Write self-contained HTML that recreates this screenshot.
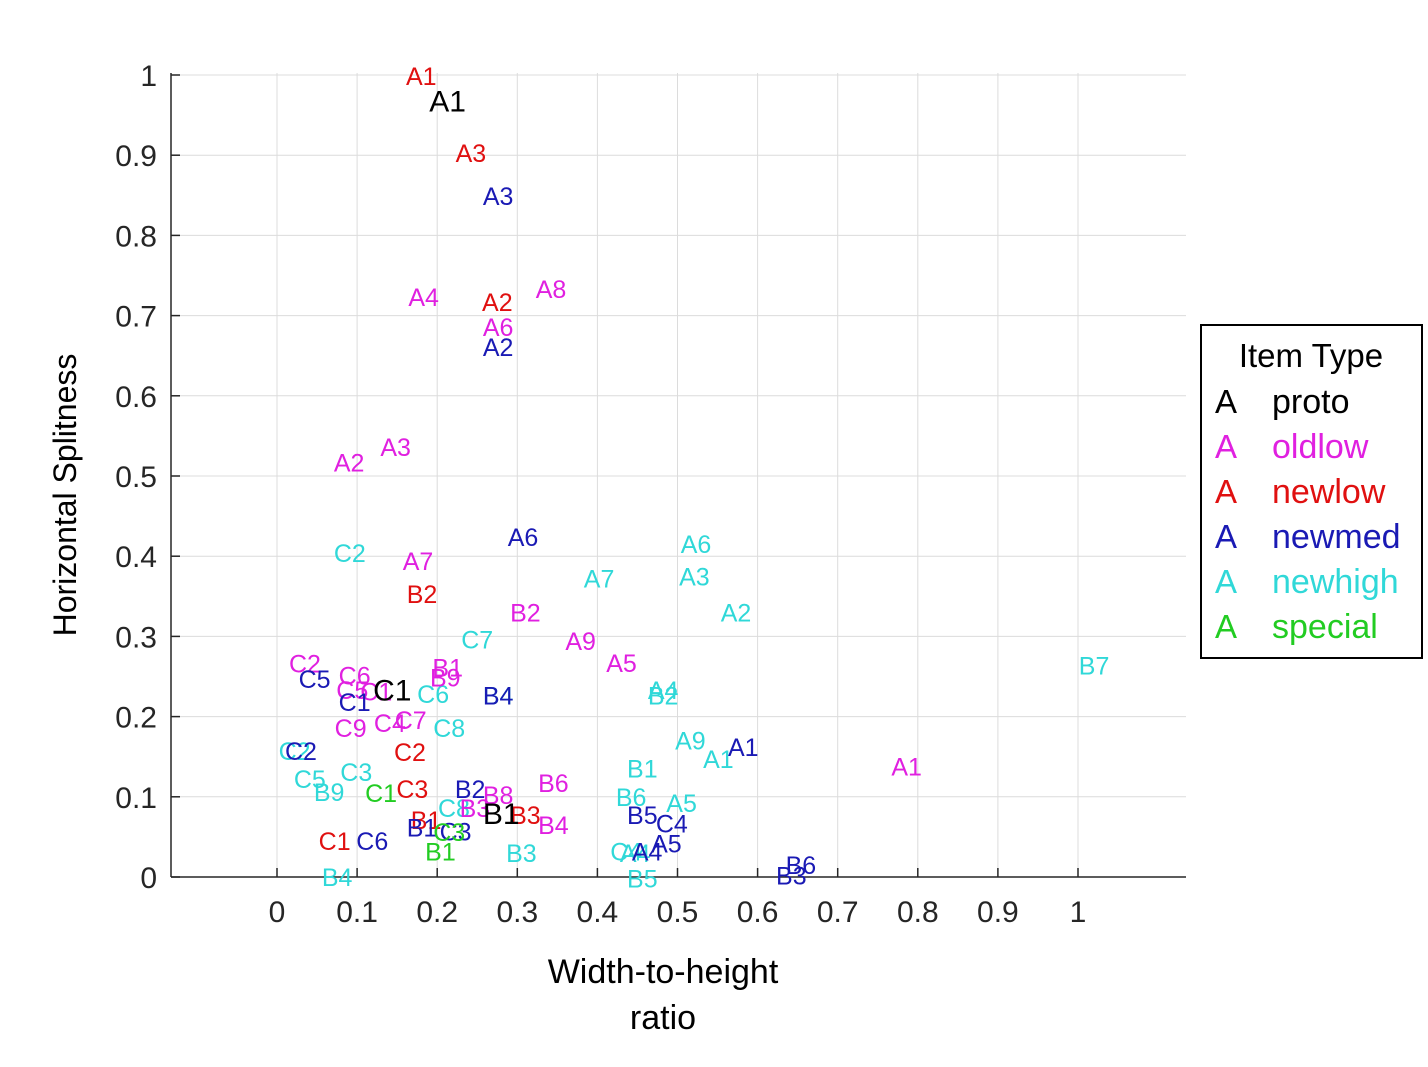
<!DOCTYPE html>
<html><head><meta charset="utf-8"><style>
body{margin:0;background:#fff;width:1428px;height:1062px;overflow:hidden;font-family:"Liberation Sans",Arial,sans-serif}
svg text{font-family:"Liberation Sans",Arial,sans-serif}
</style></head><body>
<svg id="chart" width="1428" height="1062" xmlns="http://www.w3.org/2000/svg">
<g id="grid"></g>
<g id="axes"></g>
<g id="marks"></g>
<text transform="translate(76,495) rotate(-90)" text-anchor="middle" font-size="32" fill="#000">Horizontal Splitness</text>
<text x="663" y="983" text-anchor="middle" font-size="34" fill="#000">Width-to-height</text>
<text x="663" y="1029" text-anchor="middle" font-size="34" fill="#000">ratio</text>
<g>
<rect x="1201" y="325" width="221" height="333" fill="#fff" stroke="#000" stroke-width="2"/>
<text x="1311" y="367" text-anchor="middle" font-size="33" fill="#000">Item Type</text>
<g id="legend-entries"></g>
</g>
</svg>
<script>
const xTicks=[0,0.1,0.2,0.3,0.4,0.5,0.6,0.7,0.8,0.9,1];
const yTicks=[0,0.1,0.2,0.3,0.4,0.5,0.6,0.7,0.8,0.9,1];
const seriesNames=["proto","oldlow","newlow","newmed","newhigh","special"];
const seriesColors=["#000000","#e020e0","#e01010","#1a1ab4","#30d8d8","#22cc22"];
const protoLabels=["A1","C1","B1"];
const protoX=[0.190,0.120,0.257];
const protoY=[0.966,0.231,0.077];
const oldlowLabels=["A8","A4","A6","A3","A2","A7","B2","A9","A5","C2","C6","B1","B9","C5","C9","C4","C7","C1","B6","B8","B4","A1","B3"];
const oldlowX=[0.323,0.164,0.257,0.129,0.071,0.157,0.291,0.360,0.411,0.015,0.077,0.194,0.191,0.074,0.072,0.121,0.147,0.104,0.326,0.257,0.326,0.767,0.228];
const oldlowY=[0.733,0.723,0.686,0.536,0.517,0.394,0.330,0.294,0.267,0.266,0.251,0.261,0.249,0.233,0.186,0.192,0.196,0.231,0.117,0.102,0.065,0.138,0.086];
const newlowLabels=["A1","A3","A2","B2","C2","C3","B1","C1","B3"];
const newlowX=[0.161,0.223,0.256,0.162,0.146,0.149,0.167,0.052,0.291];
const newlowY=[0.999,0.903,0.717,0.353,0.156,0.110,0.071,0.045,0.077];
const newmedLabels=["A3","A2","A6","C5","C1","C2","B2","B1","C3","C6","B4","A1","B5","C4","A5","A4","B6","B3"];
const newmedX=[0.257,0.257,0.288,0.027,0.077,0.010,0.222,0.162,0.203,0.099,0.257,0.563,0.437,0.473,0.467,0.443,0.635,0.623];
const newmedY=[0.849,0.661,0.424,0.247,0.218,0.157,0.110,0.062,0.057,0.045,0.226,0.162,0.077,0.067,0.042,0.032,0.015,0.002];
const newhighLabels=["C2","C7","A6","A7","A3","A2","B7","C6","C8","A4","B2","B4","C2","C5","B9","C3","C8","A9","A1","B1","B6","A5","B3","B4","B5","C4","A4"];
const newhighX=[0.071,0.230,0.504,0.383,0.502,0.554,1.001,0.175,0.195,0.463,0.463,0.257,0.002,0.021,0.046,0.079,0.201,0.497,0.532,0.437,0.423,0.486,0.286,0.056,0.437,0.416,0.428];
const newhighY=[0.404,0.296,0.415,0.372,0.375,0.330,0.264,0.228,0.186,0.233,0.226,0.226,0.157,0.122,0.106,0.131,0.086,0.170,0.147,0.135,0.100,0.092,0.030,0.000,-0.002,0.032,0.030];
const specialLabels=["C1","B1","C3"];
const specialX=[0.110,0.185,0.195];
const specialY=[0.105,0.032,0.056];

const NS="http://www.w3.org/2000/svg";
const L=171,R=1186,T=73,B=877;
const x0=277,xs=801,ys=802;
function sx(v){return x0+v*xs;}
function sy(v){return B-v*ys;}
function mk(tag,attrs,parent){const e=document.createElementNS(NS,tag);for(const k in attrs)e.setAttribute(k,attrs[k]);parent.appendChild(e);return e;}
const grid=document.getElementById('grid'),axes=document.getElementById('axes'),marks=document.getElementById('marks');
xTicks.forEach(t=>{
  const g=mk('line',{x1:sx(t),x2:sx(t),y1:T,y2:B,stroke:'#dcdcdc','stroke-width':1},grid);
  
  
  const tk=mk('line',{x1:sx(t),x2:sx(t),y1:B,y2:B-9,stroke:'#262626','stroke-width':1.5},axes);
  
  
  const lb=mk('text',{x:sx(t),y:B+45,'text-anchor':'middle','font-size':30,fill:'#262626'},axes);
  lb.textContent=String(t);
  
  
});
yTicks.forEach(t=>{
  const g=mk('line',{x1:L,x2:R,y1:sy(t),y2:sy(t),stroke:'#dcdcdc','stroke-width':1},grid);
  
  
  const tk=mk('line',{x1:L,x2:L+9,y1:sy(t),y2:sy(t),stroke:'#262626','stroke-width':1.5},axes);
  
  
  const lb=mk('text',{x:L-14,y:sy(t)+11,'text-anchor':'end','font-size':30,fill:'#262626'},axes);
  lb.textContent=String(t);
  
  
});
const xa=mk('line',{x1:L,x2:R,y1:B,y2:B,stroke:'#262626','stroke-width':1.5},axes);


const ya=mk('line',{x1:L,x2:L,y1:T,y2:B,stroke:'#262626','stroke-width':1.5},axes);


const all=[[protoLabels,protoX,protoY],[oldlowLabels,oldlowX,oldlowY],[newlowLabels,newlowX,newlowY],[newmedLabels,newmedX,newmedY],[newhighLabels,newhighX,newhighY],[specialLabels,specialX,specialY]];
const fs=[30,25,25,25,25,25];
const drawOrder=[4,1,2,3,0,5];
drawOrder.forEach(si=>{
  const [labs,xv,yv]=all[si];
  labs.forEach((lab,i)=>{
    const t=mk('text',{x:sx(xv[i]),y:sy(yv[i])+9,'font-size':fs[si],fill:seriesColors[si]},marks);
    t.textContent=lab;
    
    
  });
});
const le=document.getElementById('legend-entries');
seriesNames.forEach((n,i)=>{
  const yy=413+i*45;
  const a=mk('text',{x:1215,y:yy,'font-size':33,fill:seriesColors[i]},le);
  a.textContent='A';
  
  
  const b=mk('text',{x:1272,y:yy,'font-size':34,fill:seriesColors[i]},le);
  b.textContent=n;
  
  
});
</script>
</body></html>
